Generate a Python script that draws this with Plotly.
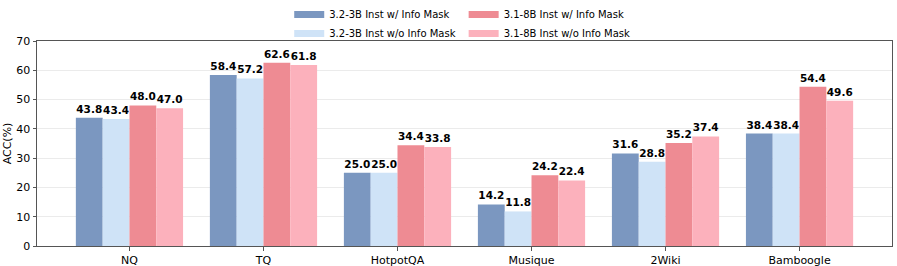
import plotly.graph_objects as go

categories = ["NQ", "TQ", "HotpotQA", "Musique", "2Wiki", "Bamboogle"]
s_3b_mask = [43.8, 58.4, 25.0, 14.2, 31.6, 38.4]
s_3b_nomask = [43.4, 57.2, 25.0, 11.8, 28.8, 38.4]
s_8b_mask = [48.0, 62.6, 34.4, 24.2, 35.2, 54.4]
s_8b_nomask = [47.0, 61.8, 33.8, 22.4, 37.4, 49.6]
series_names = ["3.2-3B Inst w/ Info Mask", "3.2-3B Inst w/o Info Mask",
                "3.1-8B Inst w/ Info Mask", "3.1-8B Inst w/o Info Mask"]
colors = ["#7b97c0", "#cfe3f7", "#ee8b93", "#fcb1bc"]
legends = ["legend", "legend", "legend2", "legend2"]

FONT = "DejaVu Sans"
fig = go.Figure()
for name, vals, col, lg in zip(series_names, [s_3b_mask, s_3b_nomask, s_8b_mask, s_8b_nomask], colors, legends):
    fig.add_trace(go.Bar(
        x=categories, y=vals, name=name, showlegend=False,
        marker=dict(color=col, line=dict(width=0)),
        texttemplate="%{y:.1f}", textposition="outside", constraintext="none",
        cliponaxis=False,
        textfont=dict(family=FONT, size=10.5, color="black", weight="bold"),
    ))
    fig.add_trace(go.Scatter(
        x=[None], y=[None], mode="lines", name=name, legend=lg,
        line=dict(color=col, width=7),
    ))

leg_common = dict(yref="container", y=1.035, yanchor="top", xanchor="left",
                  font=dict(family=FONT, size=10), bgcolor="rgba(0,0,0,0)",
                  itemwidth=30, tracegroupgap=0)
fig.update_layout(
    width=897, height=266,
    margin=dict(l=37, r=5, t=41, b=20, autoexpand=False),
    plot_bgcolor="white", paper_bgcolor="white",
    font=dict(family=FONT, size=11, color="black"),
    barmode="group", bargap=0.2, bargroupgap=0,
    legend=dict(x=0.295, **leg_common),
    legend2=dict(x=0.499, **leg_common),
)
fig.update_xaxes(
    range=[-0.69, 5.69], showline=True, mirror=True, linecolor="#555555", linewidth=1,
    ticks="outside", ticklen=3.5, tickcolor="#555555", tickfont=dict(size=11),
    showgrid=False,
)
fig.update_yaxes(
    range=[0, 70], dtick=10, showline=True, mirror=True, linecolor="#555555", linewidth=1,
    ticks="outside", ticklen=3.5, tickcolor="#555555", tickfont=dict(size=11),
    showgrid=True, gridcolor="#ebebeb", gridwidth=1, zeroline=False,
    title=dict(text="ACC(%)", font=dict(size=11), standoff=2),
)
fig.write_html("out.html", config={"displayModeBar": False},
               post_script="document.body.style.margin='0';")
